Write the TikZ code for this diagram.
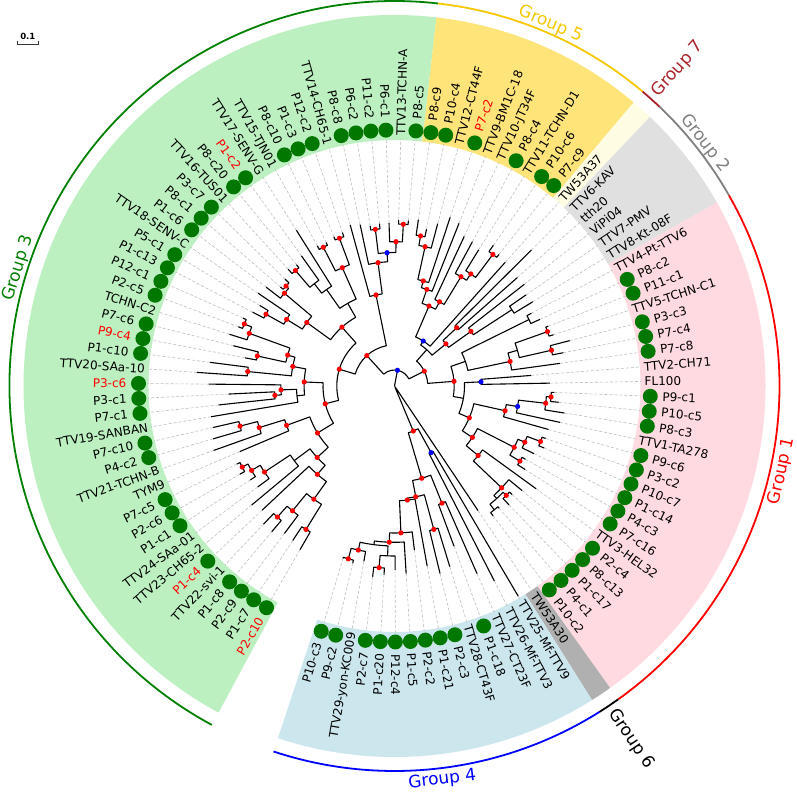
\documentclass[tikz,border=0pt]{standalone}
\usepackage{fontspec}
\setmainfont{DejaVu Sans}
\pgfdeclarelayer{fg}
\pgfsetlayers{main,fg}
\definecolor{bandGiii}{RGB}{188,240,192}
\definecolor{bandGv}{RGB}{255,228,122}
\definecolor{bandGvii}{RGB}{255,252,228}
\definecolor{bandGii}{RGB}{224,224,224}
\definecolor{bandGi}{RGB}{255,218,224}
\definecolor{bandGvi}{RGB}{176,176,176}
\definecolor{bandGiv}{RGB}{204,230,238}
\definecolor{arcGiii}{RGB}{0,128,0}
\definecolor{arcGv}{RGB}{245,200,0}
\definecolor{arcGvii}{RGB}{170,34,40}
\definecolor{arcGii}{RGB}{128,128,128}
\definecolor{arcGi}{RGB}{255,0,0}
\definecolor{arcGvi}{RGB}{0,0,0}
\definecolor{arcGiv}{RGB}{0,0,255}
\definecolor{leafgreen}{RGB}{0,120,0}
\definecolor{dashgrey}{RGB}{190,190,190}
\tikzset{
 branch/.style={black, line width=1.1pt, line join=round},
 tipdash/.style={dashgrey, line width=0.6pt, dash pattern=on 3pt off 2pt},
 nodered/.style={fill=red},
 nodeblue/.style={fill=blue},
 lbl/.style={font=\fontsize{12}{14}\selectfont, inner sep=0pt, text height=8.75pt, text depth=0pt},
 grplbl/.style={font=\fontsize{17}{20}\selectfont, inner sep=0pt},
 grparc/.style={line width=1.8pt},
}
\newcommand{\TipR}{247}
\newcommand{\LF}[2]{%
  \pgfmathsetmacro\myang{240-(#1-1)*3.3653846}%
  \expandafter\xdef\csname tangL#1\endcsname{\myang}%
  \expandafter\xdef\csname tradL#1\endcsname{#2}%
  \draw[tipdash] (\myang:#2pt) -- (\myang:\TipR pt);%
}
\newcommand{\IN}[5]{%
  \edef\mya{\csname tang#3\endcsname}%
  \edef\myb{\csname tang#4\endcsname}%
  \edef\myra{\csname trad#3\endcsname}%
  \edef\myrb{\csname trad#4\endcsname}%
  \pgfmathsetmacro\mym{(\mya+\myb)/2}%
  \expandafter\xdef\csname tang#1\endcsname{\mym}%
  \expandafter\xdef\csname trad#1\endcsname{#2}%
  \draw[branch] (\mya:\myra pt) -- (\mya:#2pt) arc[start angle=\mya, end angle=\myb, radius=#2pt] -- (\myb:\myrb pt);%
  \if r#5\begin{pgfonlayer}{fg}\fill[nodered] (\mym:#2pt) circle (2.6pt);\end{pgfonlayer}\fi
  \if b#5\begin{pgfonlayer}{fg}\fill[nodeblue] (\mym:#2pt) circle (2.6pt);\end{pgfonlayer}\fi
}
\newcommand{\LB}[4]{%
  \pgfmathsetmacro\myang{240-(#1-1)*3.3653846}%
  \ifnum#2=1 \fill[leafgreen] (\myang:256pt) circle (7.5pt);\def\myr{268}\else\def\myr{250}\fi
  \pgfmathtruncatemacro\myflip{(\myang>90)+(\myang<-90)}%
  \ifnum\myflip>0
    \pgfmathsetmacro\myrot{\myang+180}%
    \node[lbl,text=#3,anchor=east,rotate=\myrot] (lab#1) at (\myang:\myr pt) {#4};%
  \else
    \node[lbl,text=#3,anchor=west,rotate=\myang] (lab#1) at (\myang:\myr pt) {#4};%
  \fi
}
\newcommand{\band}[3]{\fill[#3] (#1:246pt) arc[start angle=#1,end angle=#2,radius=246pt] -- (#2:371pt) arc[start angle=#2,end angle=#1,radius=371pt] -- cycle;}
\newcommand{\garc}[3]{\draw[grparc,#3] (#1:385pt) arc[start angle=#1,end angle=#2,radius=385pt];}

\begin{document}
\begin{tikzpicture}
\useasboundingbox (-394.5pt,-406pt) rectangle (402.5pt,386pt);
\fill[white] (-394.5pt,-406pt) rectangle (402.5pt,386pt);
% bands
\band{241.683}{83.510}{bandGiii}
\band{83.510}{49.856}{bandGv}
\band{49.856}{46.490}{bandGvii}
\band{46.490}{29.663}{bandGii}
\band{29.663}{-54.471}{bandGi}
\band{-54.471}{-57.837}{bandGvi}
\band{-57.837}{-108.317}{bandGiv}
% group arcs
\garc{241.683}{83.510}{arcGiii}
\garc{83.510}{49.856}{arcGv}
\garc{49.856}{46.490}{arcGvii}
\garc{46.490}{29.663}{arcGii}
\garc{29.663}{-54.471}{arcGi}
\garc{-54.471}{-57.837}{arcGvi}
\garc{-57.837}{-108.317}{arcGiv}
% group labels
\node[grplbl,text=arcGiii,rotate=72.597] (g3lab) at (162.597:394pt) {Group 3};
\node[grplbl,text=arcGv,rotate=-23.317] (g5lab) at (66.683:394pt) {Group 5};
\node[grplbl,text=arcGvii,rotate=48.173,anchor=west] (g7lab) at (48.173:391pt) {Group 7};
\node[grplbl,text=arcGii,rotate=-51.923] (g2lab) at (38.077:394pt) {Group 2};
\node[grplbl,text=arcGi,rotate=77.596] (g1lab) at (-12.404:396.5pt) {Group 1};
\node[grplbl,text=arcGvi,rotate=-56.154,anchor=west] (g6lab) at (-56.154:391pt) {Group 6};
\node[grplbl,text=arcGiv,rotate=6.923] (g4lab) at (-83.077:396.5pt) {Group 4};
% scale bar
\coordinate (sba) at (-377.2pt,342pt);
\coordinate (sbb) at (-356.2pt,342pt);
\draw[line width=0.9pt,black!80] ([yshift=2.5pt]sba) -- (sba) -- (sbb) -- ([yshift=2.5pt]sbb);
\node[font=\bfseries\fontsize{8.5}{10}\selectfont,inner sep=0pt] (sblab) at (-366.7pt,350pt) {0.1};
% leaves
\LF{1}{189}\LF{2}{185}\LF{3}{184}\LF{4}{190.5}\LF{5}{190.4}\LF{6}{181.6}\LF{7}{186}\LF{8}{170}\LF{9}{172}\LF{10}{178}
\LF{11}{176}\LF{12}{168}\LF{13}{192}\LF{14}{189}\LF{15}{186}\LF{16}{186}\LF{17}{177}\LF{18}{166}\LF{19}{186}\LF{20}{198}
\LF{21}{186}\LF{22}{152}\LF{23}{166}\LF{24}{173}\LF{25}{167}\LF{26}{166}\LF{27}{160}\LF{28}{157}\LF{29}{165}\LF{30}{162}
\LF{31}{151}\LF{32}{153}\LF{33}{158}\LF{34}{156}\LF{35}{160}\LF{36}{184}\LF{37}{160}\LF{38}{159}\LF{39}{161}\LF{40}{162}
\LF{41}{167}\LF{42}{165}\LF{43}{162}\LF{44}{163}\LF{45}{163}\LF{46}{166}\LF{47}{166}\LF{48}{168}\LF{49}{160}\LF{50}{168}
\LF{51}{177.6}\LF{52}{175}\LF{53}{165}\LF{54}{164}\LF{55}{160}\LF{56}{172}\LF{57}{168}\LF{58}{166}\LF{59}{193}\LF{60}{164}
\LF{61}{165}\LF{62}{160}\LF{63}{162}\LF{64}{155}\LF{65}{160}\LF{66}{165}\LF{67}{167}\LF{68}{181}\LF{69}{172}\LF{70}{167}
\LF{71}{137}\LF{72}{155.5}\LF{73}{160}\LF{74}{165}\LF{75}{172}\LF{76}{169.5}\LF{77}{160}\LF{78}{160}\LF{79}{162}\LF{80}{155}
\LF{81}{150}\LF{82}{155}\LF{83}{175}\LF{84}{165}\LF{85}{160}\LF{86}{165}\LF{87}{161}\LF{88}{163}\LF{89}{150}\LF{90}{244}
\LF{91}{219}\LF{92}{205}\LF{93}{171}\LF{94}{189}\LF{95}{193}\LF{96}{183}\LF{97}{165}\LF{98}{188}\LF{99}{184}\LF{100}{189}
\LF{101}{192}\LF{102}{178}\LF{103}{182}\LF{104}{180}
% tree
\IN{c3}{168.5}{L1}{L2}{r}
\IN{c1}{175.8}{L4}{L5}{r}
\IN{c2}{161.2}{L3}{c1}{r}
\IN{c4}{139}{c3}{c2}{r}
\IN{c5}{117.3}{c4}{L6}{r}
\IN{d1}{172.5}{L10}{L11}{r}
\IN{d2}{166}{L9}{d1}{r}
\IN{d3}{155.9}{L8}{d2}{r}
\IN{d4}{125}{L7}{d3}{n}
\IN{e1}{105.3}{c5}{d4}{r}
\IN{f1}{159.6}{L14}{L15}{r}
\IN{f2}{141.5}{L13}{f1}{r}
\IN{f3}{114.9}{L12}{f2}{r}
\IN{e2}{90.2}{e1}{f3}{r}
\IN{g1}{120}{L17}{L18}{r}
\IN{g2}{113.6}{g1}{L19}{r}
\IN{g3}{98}{L16}{g2}{n}
\IN{k1}{147.5}{L20}{L21}{r}
\IN{k2}{140.4}{L22}{L23}{r}
\IN{k5}{162.5}{L25}{L26}{r}
\IN{k4}{154.5}{L24}{k5}{r}
\IN{k3}{111.2}{k2}{k4}{r}
\IN{kk}{103.6}{k1}{k3}{r}
\IN{h1}{90.4}{g3}{kk}{r}
\IN{h2}{71.5}{e2}{h1}{r}
\IN{k6}{147.2}{L27}{L28}{r}
\IN{k7}{126.8}{k6}{L29}{r}
\IN{k10}{147.5}{L31}{L32}{r}
\IN{k8}{144}{L30}{k10}{r}
\IN{k9}{108.3}{k7}{k8}{r}
\IN{k11}{152.1}{L33}{L34}{r}
\IN{k13}{130}{k11}{L35}{n}
\IN{k14}{118}{k13}{L36}{n}
\IN{n2}{155.9}{L37}{L38}{r}
\IN{n3}{157.7}{L39}{L40}{r}
\IN{n1}{129.3}{n2}{n3}{r}
\IN{k16}{95}{k14}{n1}{n}
\IN{k15}{78.9}{k9}{k16}{r}
\IN{h3}{57.7}{h2}{k15}{r}
\IN{m1}{162}{L46}{L47}{r}
\IN{m2}{144.3}{L45}{m1}{r}
\IN{m3}{157.8}{L43}{L44}{r}
\IN{m4}{133.5}{m3}{m2}{b}
\IN{m5}{124.4}{L42}{m4}{r}
\IN{m6}{92.9}{L41}{m5}{r}
\IN{h4}{41.1}{h3}{m6}{r}
\IN{p1}{152.3}{L48}{L49}{r}
\IN{p2}{142.6}{p1}{L50}{r}
\IN{p3}{108.9}{p2}{L51}{r}
\IN{p4}{101.9}{p3}{L52}{r}
\IN{p5}{164.3}{L56}{L57}{r}
\IN{p6}{135.6}{L55}{p5}{r}
\IN{p7}{127.9}{L54}{p6}{r}
\IN{p8}{95.5}{L53}{p7}{r}
\IN{p9}{87.1}{p4}{p8}{r}
\IN{p10}{53.4}{p9}{L58}{b}
\IN{q1}{85.2}{L59}{L60}{r}
\IN{q2a}{140}{L62}{L63}{n}
\IN{q2}{94}{L61}{q2a}{r}
\IN{q3}{66.5}{q1}{q2}{r}
\IN{s1}{48.6}{p10}{q3}{n}
\IN{u0}{150}{L64}{L65}{n}
\IN{u1}{162.4}{L66}{L67}{r}
\IN{u2}{161}{L68}{L69}{r}
\IN{u3}{128}{u1}{u2}{n}
\IN{u4}{118.2}{u3}{L70}{r}
\IN{u6}{75}{u0}{u4}{n}
\IN{v1}{86.6}{L71}{L72}{b}
\IN{x1}{156.9}{L73}{L74}{r}
\IN{x2}{152.2}{x1}{L75}{r}
\IN{x3}{124.8}{x2}{L76}{b}
\IN{x4}{113.3}{x3}{L77}{r}
\IN{y1}{156.2}{L78}{L79}{r}
\IN{y2}{141.9}{y1}{L80}{r}
\IN{y4}{146.2}{L81}{L82}{r}
\IN{y3}{134.5}{y2}{y4}{r}
\IN{z1}{159}{L87}{L88}{n}
\IN{z2}{156.4}{L85}{L86}{r}
\IN{z2p}{152}{z2}{z1}{n}
\IN{z3}{147.8}{L84}{z2p}{r}
\IN{z5}{108.8}{L83}{z3}{r}
\IN{y5}{93.3}{y3}{z5}{r}
\IN{y6}{81.3}{x4}{y5}{r}
\IN{w}{70}{v1}{y6}{n}
\IN{t}{59.7}{u6}{w}{r}
\IN{s2}{33.3}{s1}{t}{r}
\IN{N16}{16}{h4}{s2}{b}
\IN{a1}{76}{L90}{L91}{b}
\IN{a4}{126.4}{L92}{L93}{r}
\IN{a6}{148.7}{L94}{L95}{r}
\IN{a10}{182.3}{L100}{L101}{r}
\IN{a9p}{170}{L99}{a10}{n}
\IN{b1}{178.9}{L103}{L104}{r}
\IN{b2}{168}{L102}{b1}{r}
\IN{a9pp}{160}{a9p}{b2}{n}
\IN{a9}{156.3}{L98}{a9pp}{r}
\IN{a8}{147}{L97}{a9}{r}
\IN{a7}{114.8}{L96}{a8}{r}
\IN{a5}{112.8}{a6}{a7}{r}
\IN{a3}{96.2}{a4}{a5}{r}
\IN{a2}{48.8}{a1}{a3}{r}
\IN{G}{2}{L89}{a2}{n}
\IN{R}{0.5}{N16}{G}{n}
% labels
\LB{1}{1}{red}{P2-c10}
\LB{2}{1}{black}{P1-c7}
\LB{3}{1}{black}{P2-c9}
\LB{4}{1}{black}{P1-c8}
\LB{5}{0}{black}{TTV22-svi-1}
\LB{6}{1}{red}{P1-c4}
\LB{7}{0}{black}{TTV23-CH65-2}
\LB{8}{0}{black}{TTV24-SAa-01}
\LB{9}{1}{black}{P1-c1}
\LB{10}{1}{black}{P2-c6}
\LB{11}{1}{black}{P7-c5}
\LB{12}{0}{black}{TYM9}
\LB{13}{0}{black}{TTV21-TCHN-B}
\LB{14}{1}{black}{P4-c2}
\LB{15}{1}{black}{P7-c10}
\LB{16}{0}{black}{TTV19-SANBAN}
\LB{17}{1}{black}{P7-c1}
\LB{18}{1}{black}{P3-c1}
\LB{19}{1}{red}{P3-c6}
\LB{20}{0}{black}{TTV20-SAa-10}
\LB{21}{1}{black}{P1-c10}
\LB{22}{1}{red}{P9-c4}
\LB{23}{1}{black}{P7-c6}
\LB{24}{0}{black}{TCHN-C2}
\LB{25}{1}{black}{P2-c5}
\LB{26}{1}{black}{P12-c1}
\LB{27}{1}{black}{P1-c13}
\LB{28}{1}{black}{P5-c1}
\LB{29}{0}{black}{TTV18-SENV-C}
\LB{30}{1}{black}{P1-c6}
\LB{31}{1}{black}{P8-c1}
\LB{32}{1}{black}{P3-c7}
\LB{33}{0}{black}{TTV16-TUS01}
\LB{34}{1}{black}{P8-c20}
\LB{35}{1}{red}{P1-c2}
\LB{36}{0}{black}{TTV17-SENV-G}
\LB{37}{0}{black}{TTV15-TJN01}
\LB{38}{1}{black}{P8-c10}
\LB{39}{1}{black}{P1-c3}
\LB{40}{1}{black}{P12-c2}
\LB{41}{0}{black}{TTV14-CH65-1}
\LB{42}{1}{black}{P8-c8}
\LB{43}{1}{black}{P6-c2}
\LB{44}{1}{black}{P11-c2}
\LB{45}{1}{black}{P6-c1}
\LB{46}{0}{black}{TTV13-TCHN-A}
\LB{47}{1}{black}{P8-c5}
\LB{48}{1}{black}{P8-c9}
\LB{49}{1}{black}{P10-c4}
\LB{50}{0}{black}{TTV12-CT44F}
\LB{51}{1}{red}{P7-c2}
\LB{52}{0}{black}{TTV9-BM1C-18}
\LB{53}{0}{black}{TTV10-JT34F}
\LB{54}{1}{black}{P8-c4}
\LB{55}{0}{black}{TTV11-TCHN-D1}
\LB{56}{1}{black}{P10-c6}
\LB{57}{1}{black}{P7-c9}
\LB{58}{0}{black}{TW53A37}
\LB{59}{0}{black}{TTV6-KAV}
\LB{60}{0}{black}{tth20}
\LB{61}{0}{black}{ViPi04}
\LB{62}{0}{black}{TTV7-PMV}
\LB{63}{0}{black}{TTV8-Kt-08F}
\LB{64}{0}{black}{TTV4-Pt-TTV6}
\LB{65}{1}{black}{P8-c2}
\LB{66}{1}{black}{P11-c1}
\LB{67}{0}{black}{TTV5-TCHN-C1}
\LB{68}{1}{black}{P3-c3}
\LB{69}{1}{black}{P7-c4}
\LB{70}{1}{black}{P7-c8}
\LB{71}{0}{black}{TTV2-CH71}
\LB{72}{0}{black}{FL100}
\LB{73}{1}{black}{P9-c1}
\LB{74}{1}{black}{P10-c5}
\LB{75}{1}{black}{P8-c3}
\LB{76}{0}{black}{TTV1-TA278}
\LB{77}{1}{black}{P9-c6}
\LB{78}{1}{black}{P3-c2}
\LB{79}{1}{black}{P10-c7}
\LB{80}{1}{black}{P1-c14}
\LB{81}{1}{black}{P4-c3}
\LB{82}{1}{black}{P7-c16}
\LB{83}{0}{black}{TTV3-HEL32}
\LB{84}{1}{black}{P2-c4}
\LB{85}{1}{black}{P8-c13}
\LB{86}{1}{black}{P1-c17}
\LB{87}{1}{black}{P4-c1}
\LB{88}{1}{black}{P10-c2}
\LB{89}{0}{black}{TW53A30}
\LB{90}{0}{black}{TTV25-Mf-TTV9}
\LB{91}{0}{black}{TTV26-Mf-TTV3}
\LB{92}{0}{black}{TTV27-CT23F}
\LB{93}{1}{black}{P1-c18}
\LB{94}{0}{black}{TTV28-CT43F}
\LB{95}{1}{black}{P2-c3}
\LB{96}{1}{black}{P1-c21}
\LB{97}{1}{black}{P2-c2}
\LB{98}{1}{black}{P1-c5}
\LB{99}{1}{black}{P12-c4}
\LB{100}{1}{black}{P1-c20}
\LB{101}{1}{black}{P2-c7}
\LB{102}{0}{black}{TTV29-yon-KC009}
\LB{103}{1}{black}{P9-c2}
\LB{104}{1}{black}{P10-c3}
\end{tikzpicture}
\end{document}
